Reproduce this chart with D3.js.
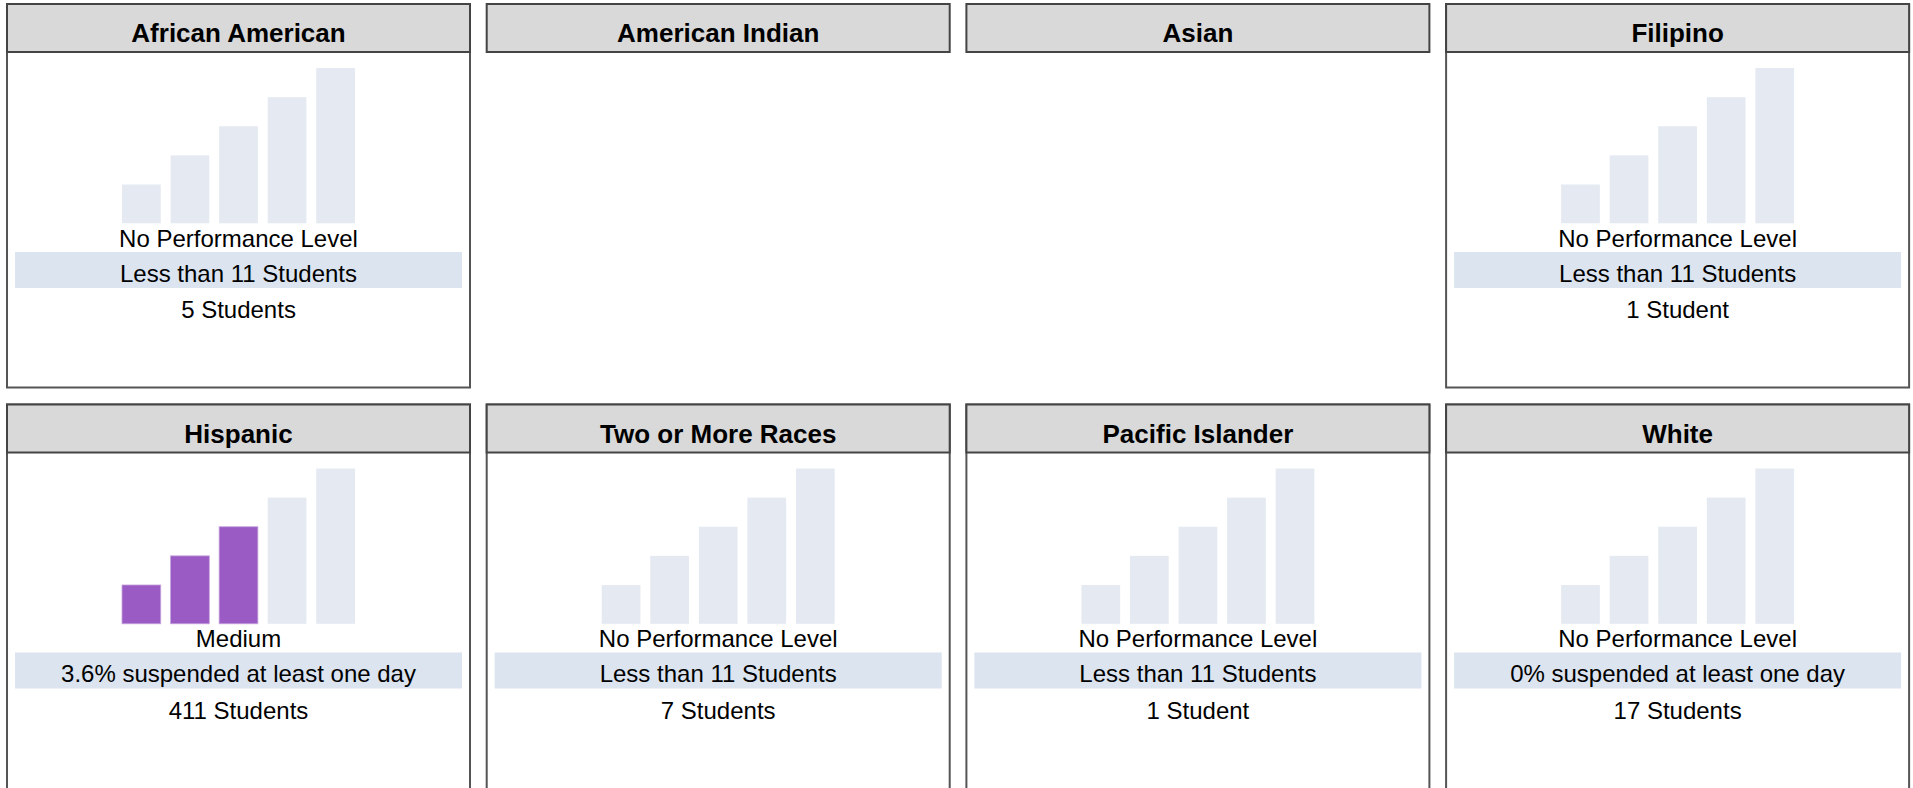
<!DOCTYPE html>
<html>
<head>
<meta charset="utf-8">
<script src="https://cdn.jsdelivr.net/npm/d3@7"></script>
<style>
  html, body { margin: 0; padding: 0; background: #fff; overflow: hidden; }
  svg { display: block; }
  text { font-family: "Liberation Sans", Arial, Helvetica, sans-serif; fill: #000; }
</style>
</head>
<body>
<svg id="chart" width="1913" height="788"></svg>
<script>
// Student groups, in reading order (four per row)
const groups = ["African American", "American Indian", "Asian", "Filipino",
                "Hispanic", "Two or More Races", "Pacific Islander", "White"];

// Whether a group has a reportable card at all
const hasData = [true, false, false, true, true, true, true, true];

// Number of gauge bars lit (0 = no performance level)
const litBars = [0, 0, 0, 0, 3, 0, 0, 0];

// Status label under the gauge
const statusLabels = ["No Performance Level", "", "", "No Performance Level",
                      "Medium", "No Performance Level", "No Performance Level", "No Performance Level"];

// Suspension rate line
const rateLabels = ["Less than 11 Students", "", "", "Less than 11 Students",
                    "3.6% suspended at least one day", "Less than 11 Students",
                    "Less than 11 Students", "0% suspended at least one day"];

// Enrolment count line
const countLabels = ["5 Students", "", "", "1 Student",
                     "411 Students", "7 Students", "1 Student", "17 Students"];

// Gauge levels and their relative bar heights
const levels = ["Very Low", "Low", "Medium", "High", "Very High"];
const levelHeights = [4, 7, 10, 13, 16];

const svg = d3.select("#chart");

const cols = 4;
const panelW = 463, colStep = 479.7, left0 = 7;
const rowStep = 400.5, top0 = 4;
const headerH = 48;

// gauge scales, relative to a panel's top-left corner
const x = d3.scaleBand().domain(levels).range([115, 348]).paddingInner(0.202).paddingOuter(0);
const y = d3.scaleLinear().domain([0, d3.max(levelHeights)]).range([219.3, 64]);

const fillOn = "#9b5bc4", fillOff = "#e5eaf2";

groups.forEach((g, i) => {
  const c = i % cols, r = Math.floor(i / cols);
  const px = left0 + c * colStep, py = top0 + r * rowStep;
  const p = svg.append("g").attr("transform", `translate(${px},${py})`);

  if (hasData[i]) {
    const frameH = r === 0 ? 383.5 : 420;
    p.append("rect")
      .attr("x", 0).attr("y", 0).attr("width", panelW).attr("height", frameH)
      .attr("fill", "#fff").attr("stroke", "#555").attr("stroke-width", 2);

    // gauge bars
    p.selectAll("rect.bar")
      .data(levels.map((l, k) => ({ level: l, h: levelHeights[k], on: k < litBars[i] })))
      .join("rect")
      .attr("class", "bar")
      .attr("x", d => x(d.level))
      .attr("width", x.bandwidth())
      .attr("y", d => y(d.h))
      .attr("height", d => y(0) - y(d.h))
      .attr("fill", d => d.on ? fillOn : fillOff)
      .attr("stroke", d => d.on ? "#c6a6dd" : "none")
      .attr("stroke-width", 0.8);

    p.append("text")
      .attr("x", panelW / 2).attr("y", 242.7)
      .attr("text-anchor", "middle").style("font-size", "24px")
      .text(statusLabels[i]);

    p.append("rect")
      .attr("x", 8).attr("y", 248).attr("width", panelW - 16).attr("height", 36)
      .attr("fill", "#dbe4ef");

    p.append("text")
      .attr("x", panelW / 2).attr("y", 277.7)
      .attr("text-anchor", "middle").style("font-size", "24px")
      .text(rateLabels[i]);

    p.append("text")
      .attr("x", panelW / 2).attr("y", 314.3)
      .attr("text-anchor", "middle").style("font-size", "24px")
      .text(countLabels[i]);
  }

  // header strip
  p.append("rect")
    .attr("x", 0).attr("y", 0).attr("width", panelW).attr("height", headerH)
    .attr("fill", "#d9d9d9").attr("stroke", "#444").attr("stroke-width", 2);

  p.append("text")
    .attr("x", panelW / 2).attr("y", 38.4)
    .attr("text-anchor", "middle")
    .style("font-size", "26px").style("font-weight", "bold")
    .text(g);
});
</script>
</body>
</html>
